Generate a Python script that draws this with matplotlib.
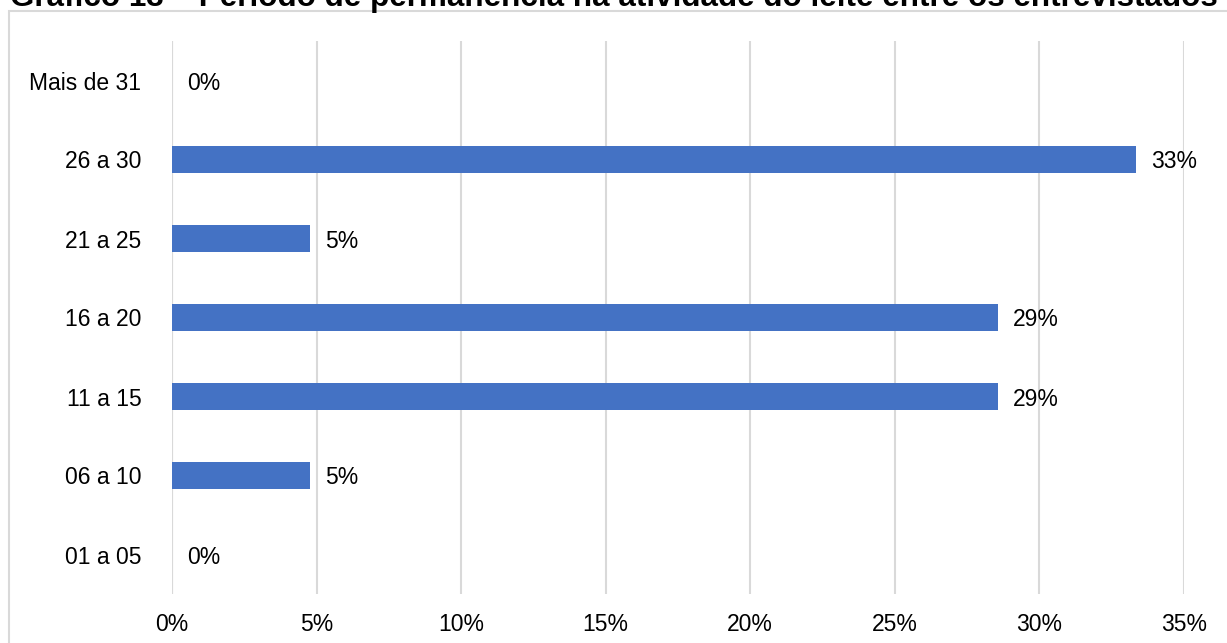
import matplotlib
matplotlib.use("Agg")
import matplotlib.pyplot as plt
from matplotlib.patches import Rectangle

plt.rcParams['font.family'] = ['Liberation Sans', 'DejaVu Sans']

# data (n = 21 respondents)
categories = ["01 a 05", "06 a 10", "11 a 15", "16 a 20", "21 a 25", "26 a 30", "Mais de 31"]
values = [0.0, 4.76, 28.57, 28.57, 4.76, 33.33, 0.0]
labels = ["0%", "5%", "29%", "29%", "5%", "33%", "0%"]
xticks = [0, 5, 10, 15, 20, 25, 30, 35]
title = "Gráfico 13 – Período de permanência na atividade do leite entre os entrevistados"

W, H = 1227, 643
fig = plt.figure(figsize=(W/100, H/100), dpi=100)

# outer frame (partly cut off, as in the source page)
fig.patches.append(Rectangle((9/W, -0.1), 1.2, (H-11)/H + 0.1, transform=fig.transFigure,
                             fill=False, edgecolor="#d9d9d9", lw=1.5))

fig.text(10/W, (H-6)/H, title, ha="left", va="baseline", fontsize=22.6, fontweight="bold")

ax = fig.add_axes([172/W, (H-594)/H, (1184-172)/W, (594-41)/H])
ypos = range(len(categories))
ax.barh(ypos, values, height=0.35, color="#4472C4", zorder=3)
for y, v, lab in zip(ypos, values, labels):
    ax.annotate(lab, (v, y), xytext=(11, 0), textcoords="offset points",
                va="center_baseline", ha="left", fontsize=16.5)

ax.set_xlim(0, 35)
ax.set_ylim(-0.5, len(categories) - 0.5)
ax.set_xticks(xticks)
ax.set_xticklabels([f"{t}%" for t in xticks], fontsize=16.5)
ax.set_yticks(list(ypos))
ax.set_yticklabels(categories, fontsize=16.5)
ax.tick_params(axis="x", length=0, pad=14)
ax.tick_params(axis="y", length=0, pad=22)
ax.grid(axis="x", color="#d9d9d9", lw=1.5, zorder=0)
for s in ax.spines.values():
    s.set_visible(False)
ax.axvline(0, color="#d9d9d9", lw=1.5, zorder=1)

fig.savefig("out.png", dpi=100)
